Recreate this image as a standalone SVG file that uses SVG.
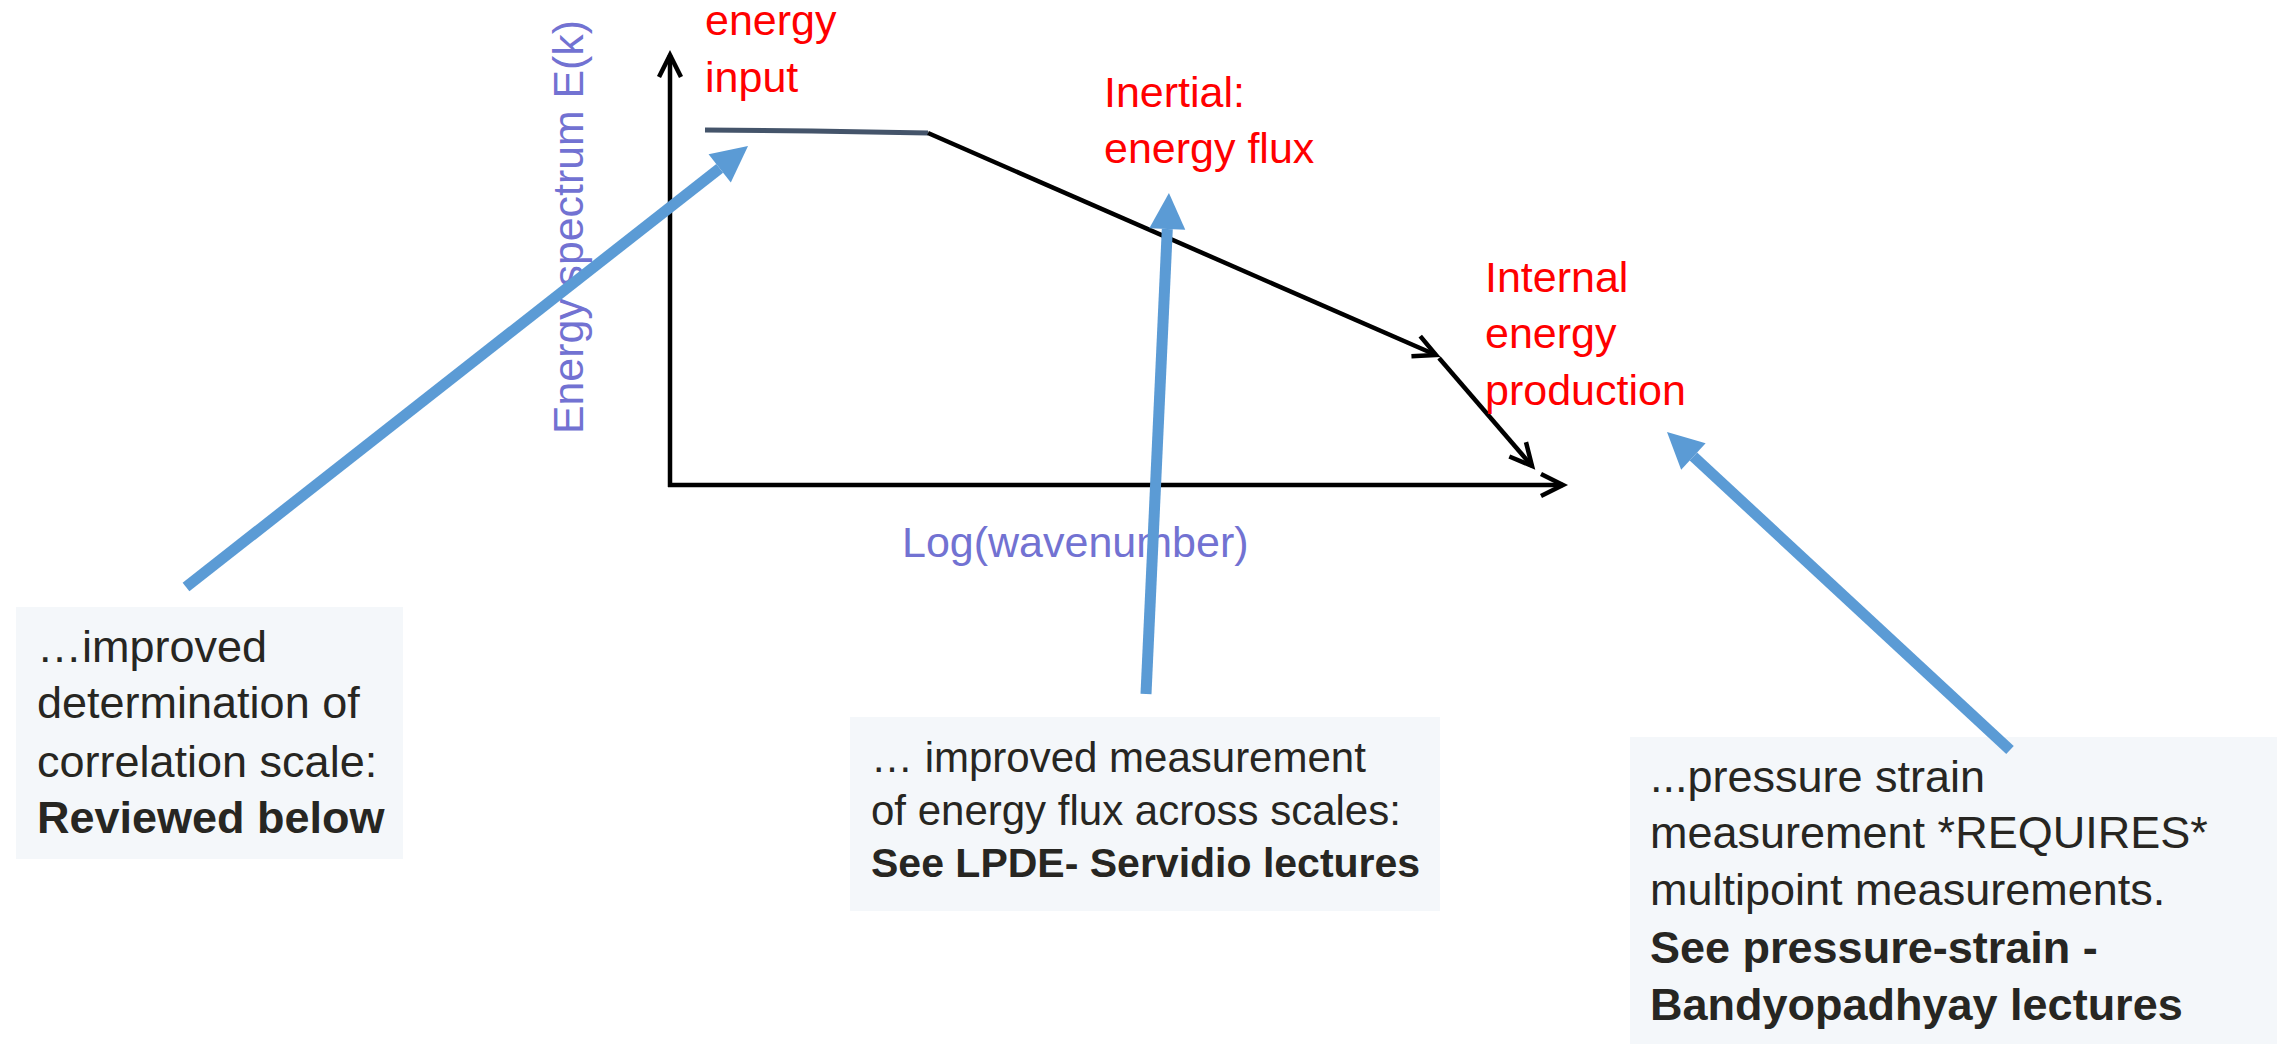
<svg xmlns="http://www.w3.org/2000/svg" width="2277" height="1044" viewBox="0 0 2277 1044">
  <style>
    .red { font-family: "Liberation Sans", Arial, sans-serif; font-size: 43px; fill: #ff0000; }
    .axis-label { font-family: "Liberation Sans", Arial, sans-serif; font-size: 42px; fill: #7272d2; }
    .box { fill: #f4f7fa; }
    .bt { font-family: "Liberation Sans", Arial, sans-serif; fill: #272622; }
    .b { font-weight: bold; }
    .blk { stroke: #000000; stroke-width: 4.5; fill: none; }
    .blue { stroke: #5b9bd5; stroke-width: 11; fill: none; stroke-linecap: butt; }
  </style>
  <defs>
    <marker id="open" markerUnits="userSpaceOnUse" markerWidth="40" markerHeight="40" refX="0" refY="0" orient="auto" viewBox="-30 -20 40 40" overflow="visible">
      <path d="M-22,-11 L0,0 L-22,11" fill="none" stroke="#000000" stroke-width="4.5" stroke-linejoin="miter"/>
    </marker>
    <marker id="blueHead" markerUnits="userSpaceOnUse" markerWidth="50" markerHeight="50" refX="0" refY="0" orient="auto" viewBox="-5 -25 50 50" overflow="visible">
      <path d="M0,-18 L36,0 L0,18 Z" fill="#5b9bd5"/>
    </marker>
  </defs>
  <rect width="2277" height="1044" fill="#ffffff"/>

  <g id="chart">
    <line class="blk" x1="670" y1="487" x2="670" y2="55" marker-end="url(#open)"/>
    <line class="blk" x1="668" y1="485" x2="1563" y2="485" marker-end="url(#open)"/>
    <path d="M705,130 L812,131 L928,133" fill="none" stroke="#44546a" stroke-width="5"/>
    <line class="blk" x1="928" y1="133" x2="1436" y2="355" marker-end="url(#open)"/>
    <line class="blk" x1="1439" y1="358" x2="1532" y2="466" marker-end="url(#open)"/>
    <text class="axis-label" transform="translate(583,434) rotate(-90)" textLength="414" lengthAdjust="spacingAndGlyphs">Energy spectrum E(k)</text>
    <text class="axis-label" x="902" y="557" style="font-size:43px">Log(wavenumber)</text>
  </g>

  <g id="label-energy-input">
    <text class="red" x="705" y="35">energy</text>
    <text class="red" x="705" y="92">input</text>
  </g>
  <g id="label-inertial">
    <text class="red" x="1104" y="107">Inertial:</text>
    <text class="red" x="1104" y="163">energy flux</text>
  </g>
  <g id="label-internal">
    <text class="red" x="1485" y="292">Internal</text>
    <text class="red" x="1485" y="348">energy</text>
    <text class="red" x="1485" y="405">production</text>
  </g>

  <g id="box-correlation">
    <rect class="box" x="16" y="607" width="387" height="252"/>
    <g class="bt" style="font-size:45px">
      <text x="37" y="662">…improved</text>
      <text x="37" y="718">determination of</text>
      <text x="37" y="777">correlation scale:</text>
      <text class="b" x="37" y="833">Reviewed below</text>
    </g>
  </g>

  <g id="box-flux">
    <rect class="box" x="850" y="717" width="590" height="194"/>
    <g class="bt" style="font-size:42px">
      <text x="871" y="772">… improved measurement</text>
      <text x="871" y="825">of energy flux across scales:</text>
      <text class="b" x="871" y="877" style="font-size:41px">See LPDE- Servidio lectures</text>
    </g>
  </g>

  <g id="box-pressure">
    <rect class="box" x="1630" y="737" width="647" height="307"/>
    <g class="bt" style="font-size:45px">
      <text x="1650" y="792">...pressure strain</text>
      <text x="1650" y="848">measurement *REQUIRES*</text>
      <text x="1650" y="905">multipoint measurements.</text>
      <text class="b" x="1650" y="963">See pressure-strain -</text>
      <text class="b" x="1650" y="1020">Bandyopadhyay lectures</text>
    </g>
  </g>

  <g id="connectors">
    <line class="blue" x1="186" y1="587" x2="719.7" y2="168.3" marker-end="url(#blueHead)"/>
    <line class="blue" x1="1146" y1="694" x2="1167.3" y2="229" marker-end="url(#blueHead)"/>
    <line class="blue" x1="2010" y1="750" x2="1693.4" y2="456.5" marker-end="url(#blueHead)"/>
  </g>
</svg>
